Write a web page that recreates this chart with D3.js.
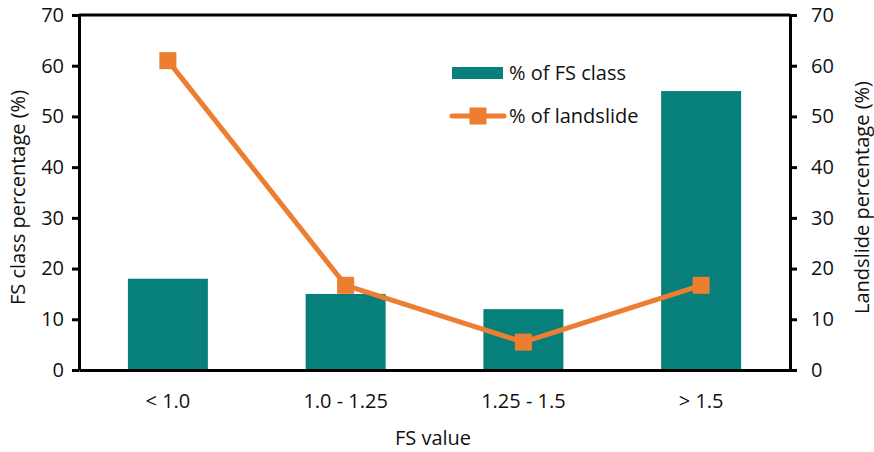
<!DOCTYPE html>
<html>
<head>
<meta charset="utf-8">
<script src="https://cdn.jsdelivr.net/npm/d3@7"></script>
<style>
  html, body { margin: 0; padding: 0; background: #fff; }
  svg { display: block; font-family: "Open Sans", sans-serif; }
</style>
</head>
<body>
<svg id="chart" width="874" height="452"></svg>
<script>
// FS classes and their shares
const categories = ["< 1.0", "1.0 - 1.25", "1.25 - 1.5", "> 1.5"];
const fsClassPct = [18, 15, 12, 55];
const landslidePct = [61, 16.7, 5.5, 16.7];
const yTicks = [0, 10, 20, 30, 40, 50, 60, 70];

const teal = "#077F7B";
const orange = "#ED7D31";
const ink = "#111";
const fs = 20;

const svg = d3.select("#chart");
const m = { left: 79, right: 790, top: 15, bottom: 370 };

const x = d3.scaleBand().domain(categories).range([m.left, m.right]).paddingInner(0.55).paddingOuter(0.275);
const yL = d3.scaleLinear().domain([0, 70]).range([m.bottom, m.top]);
const yR = d3.scaleLinear().domain([0, 70]).range([m.bottom, m.top]);

// bars
svg.append("g").selectAll("rect").data(fsClassPct).join("rect")
  .attr("x", (d, i) => x(categories[i]))
  .attr("width", x.bandwidth())
  .attr("y", d => yL(d))
  .attr("height", d => yL(0) - yL(d))
  .attr("fill", teal);

// axes
const axisStyle = g => {
  g.selectAll("path.domain").attr("stroke", "#000").attr("stroke-width", 3);
  g.selectAll(".tick line").attr("stroke", "#000").attr("stroke-width", 3);
  g.selectAll(".tick text").attr("font-size", fs).attr("fill", ink).attr("font-family", "Open Sans, sans-serif");
};

svg.append("g").attr("transform", `translate(${m.left},0)`)
  .call(d3.axisLeft(yL).tickValues(yTicks).tickSize(7).tickSizeOuter(0).tickPadding(8))
  .call(axisStyle);

svg.append("g").attr("transform", `translate(${m.right},0)`)
  .call(d3.axisRight(yR).tickValues(yTicks).tickSize(7).tickSizeOuter(0).tickPadding(14))
  .call(axisStyle);

// bottom axis (no ticks) and top border
svg.append("g").attr("transform", `translate(0,${m.bottom})`)
  .call(d3.axisBottom(x).tickSize(0).tickSizeOuter(0).tickPadding(24))
  .call(g => {
    g.select("path.domain").attr("stroke", "#000").attr("stroke-width", 3);
    g.selectAll(".tick text").attr("font-size", fs).attr("fill", ink).attr("font-family", "Open Sans, sans-serif");
  });
svg.append("line").attr("x1", m.left).attr("x2", m.right).attr("y1", m.top).attr("y2", m.top)
  .attr("stroke", "#000").attr("stroke-width", 3);

// landslide line
const cx = i => x(categories[i]) + x.bandwidth() / 2;
const line = d3.line().x((d, i) => cx(i)).y(d => yR(d));
svg.append("path").datum(landslidePct).attr("d", line)
  .attr("fill", "none").attr("stroke", orange).attr("stroke-width", 5).attr("stroke-linejoin", "round");
const mk = 17;
svg.append("g").selectAll("rect").data(landslidePct).join("rect")
  .attr("x", (d, i) => cx(i) - mk / 2).attr("y", d => yR(d) - mk / 2)
  .attr("width", mk).attr("height", mk).attr("fill", orange);

// axis titles
svg.append("text").attr("x", 433).attr("y", 445).attr("text-anchor", "middle")
  .attr("font-size", fs).attr("fill", ink).text("FS value");
svg.append("text").attr("transform", `translate(25,${(m.top + m.bottom) / 2 + 5}) rotate(-90)`)
  .attr("text-anchor", "middle").attr("font-size", fs).attr("fill", ink).text("FS class percentage (%)");
svg.append("text").attr("transform", `translate(869,${(m.top + m.bottom) / 2 + 5}) rotate(-90)`)
  .attr("text-anchor", "middle").attr("font-size", fs).attr("fill", ink).text("Landslide percentage (%)");

// legend
const lg = svg.append("g");
lg.append("rect").attr("x", 452).attr("y", 67).attr("width", 51).attr("height", 12).attr("fill", teal);
lg.append("text").attr("x", 509).attr("y", 80).attr("font-size", fs).attr("fill", ink).text("% of FS class");
lg.append("line").attr("x1", 452).attr("x2", 504).attr("y1", 116).attr("y2", 116)
  .attr("stroke", orange).attr("stroke-width", 5).attr("stroke-linecap", "round");
lg.append("rect").attr("x", 478 - mk / 2).attr("y", 116 - mk / 2).attr("width", mk).attr("height", mk).attr("fill", orange);
lg.append("text").attr("x", 509).attr("y", 123).attr("font-size", fs).attr("fill", ink).text("% of landslide");
</script>
</body>
</html>
